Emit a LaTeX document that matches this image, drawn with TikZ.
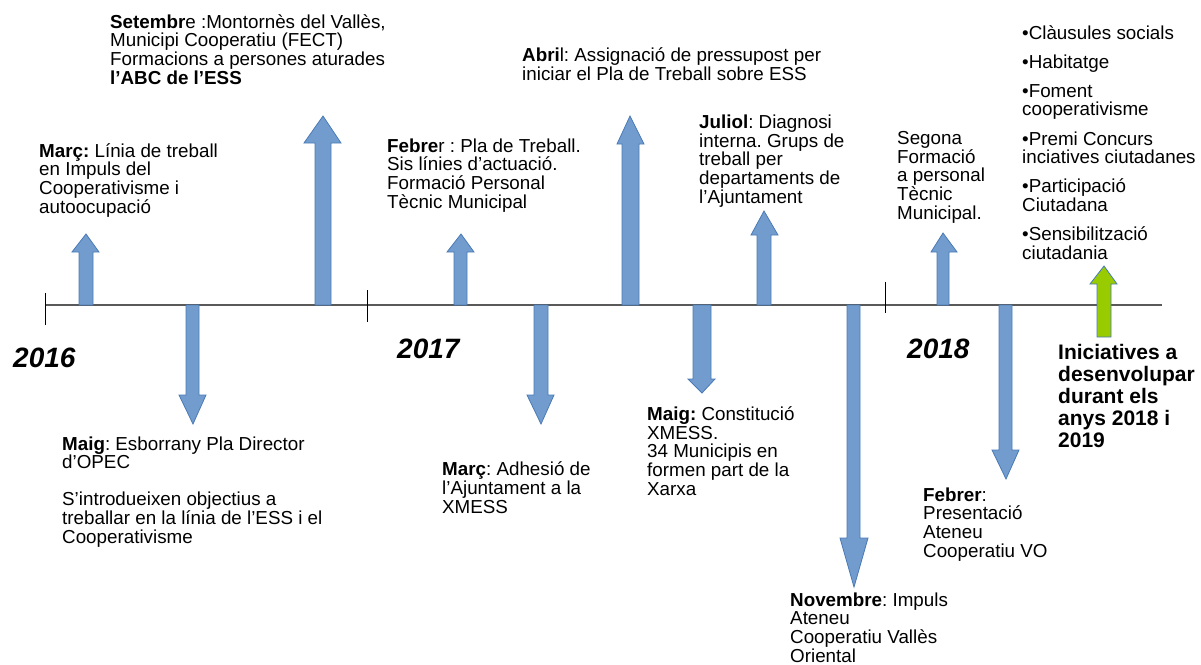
\documentclass[tikz,border=0pt]{standalone}
\usepackage{fontspec}
\setmainfont{Liberation Sans}
\usepackage{tikz}
\frenchspacing

\definecolor{arrowblue}{RGB}{114,156,206}
\definecolor{edgeblue}{RGB}{74,122,182}
\definecolor{arrowgreen}{RGB}{153,204,0}
\definecolor{axisgray}{RGB}{89,89,89}

\begin{document}
\begin{tikzpicture}[x=1pt,y=-1pt]
		\useasboundingbox (0,0) rectangle (1201,664);

		% eix del temps
		\coordinate (t0) at (45,305);
		\coordinate (tend) at (1162,305);
		\draw [axisgray, line width=1.4pt] (t0) -- (tend);
		\draw [black, line width=0.9pt] (45,293) -- (45,325);
		\draw [black, line width=0.9pt] (367,290) -- (367,322);
		\draw [black, line width=0.9pt] (885,282) -- (885,313);

		\begin{scope}[every path/.style={fill=arrowblue,draw=edgeblue,line width=0.8pt,line join=miter}]
			% fletxes cap amunt
			\path (79,305) -- (79,252) -- (72,252) -- (86,234) -- (99,252) -- (93,252) -- (93,305) -- cycle;
			\path (315,305) -- (315,143) -- (304,143) -- (323,116) -- (341,143) -- (331,143) -- (331,305) -- cycle;
			\path (454,305) -- (454,252) -- (447,252) -- (461,234) -- (474,252) -- (467,252) -- (467,305) -- cycle;
			\path (622,305) -- (622,144) -- (617,144) -- (630,116) -- (644,144) -- (639,144) -- (639,305) -- cycle;
			\path (757,305) -- (757,235) -- (751,235) -- (764,211) -- (778,235) -- (771,235) -- (771,305) -- cycle;
			\path (937,305) -- (937,252) -- (931,252) -- (943,233) -- (957,252) -- (949,252) -- (949,305) -- cycle;
			\path [fill=arrowgreen] (1097,337) -- (1097,284) -- (1090,284) -- (1104,266) -- (1117,284) -- (1111,284) -- (1111,337) -- cycle;

			% fletxes cap avall
			\path (186,305) -- (186,395) -- (179,395) -- (193,424) -- (206,395) -- (199,395) -- (199,305) -- cycle;
			\path (534,305) -- (534,395) -- (527,395) -- (541,424) -- (554,395) -- (548,395) -- (548,305) -- cycle;
			\path (693,305) -- (693,379) -- (688,379) -- (702,393) -- (715,379) -- (711,379) -- (711,305) -- cycle;
			\path (847,305) -- (847,538) -- (840,538) -- (854,587) -- (868,538) -- (860,538) -- (860,305) -- cycle;
			\path (999,305) -- (999,450) -- (992,450) -- (1006,479) -- (1019,450) -- (1012,450) -- (1012,305) -- cycle;
		\end{scope}

		% textos (ancorats a la linia base de l'ultima linia)
		\begin{scope}[every node/.style={anchor=base west,inner sep=0pt,align=left,
					  font={\fontsize{18.8pt}{18.6pt}\selectfont}}]
			\node (mar16) at (39,213) {\textbf{Març:} Línia de treball\\en Impuls del\\Cooperativisme i\\autoocupació};
			\node (set16) at (110,84) {\textbf{Setembr}e :Montornès del Vallès,\\Municipi Cooperatiu (FECT)\\Formacions a persones aturades\\\textbf{l’ABC de l’ESS}};
			\node (mai16) at (62,543) {\textbf{Maig}: Esborrany Pla Director\\d’OPEC\\[18.6pt]S’introdueixen objectius a\\treballar en la línia de l’ESS i el\\Cooperativisme};

			\node (feb17) at (387,208) {\textbf{Febre}r : Pla de Treball.\\Sis línies d’actuació.\\Formació Personal\\Tècnic Municipal};
			\node (abr17) at (522,80) {\textbf{Abri}l: Assignació de pressupost per\\iniciar el Pla de Treball sobre ESS};
			\node (mar17) at (442,513) {\textbf{Març}: Adhesió de\\l’Ajuntament a la\\XMESS};
			\node (mai17) at (647,495) {\textbf{Maig:} Constitució\\XMESS.\\34 Municipis en\\formen part de la\\Xarxa};
			\node (jul17) at (699,203) {\textbf{Juliol}: Diagnosi\\interna. Grups de\\treball per\\departaments de\\l’Ajuntament};
			\node (nov17) at (790,662) {\textbf{Novembre}: Impuls\\Ateneu\\Cooperatiu Vallès\\Oriental};

			\node (seg18) at (897,219) {Segona\\Formació\\a personal\\Tècnic\\Municipal.};
			\node (feb18) at (923,557) {\textbf{Febrer}:\\Presentació\\Ateneu\\Cooperatiu VO};
			\node (llista) at (1022,259) {•Clàusules socials\\[10.5pt]•Habitatge\\[10.5pt]•Foment\\cooperativisme\\[10.5pt]•Premi Concurs\\inciatives ciutadanes\\[10.5pt]•Participació\\Ciutadana\\[10.5pt]•Sensibilització\\ciutadania};

			\node (inic) at (1058,447) [font={\fontsize{21pt}{21.8pt}\selectfont\bfseries}] {Iniciatives a\\desenvolupar\\durant els\\anys 2018 i\\2019};

			% anys
			\node (y2016) at (13,367) [font={\fontsize{28pt}{30pt}\selectfont\bfseries\itshape}] {2016};
			\node (y2017) at (397,358) [font={\fontsize{28pt}{30pt}\selectfont\bfseries\itshape}] {2017};
			\node (y2018) at (907,358) [font={\fontsize{28pt}{30pt}\selectfont\bfseries\itshape}] {2018};
		\end{scope}
\end{tikzpicture}
\end{document}
